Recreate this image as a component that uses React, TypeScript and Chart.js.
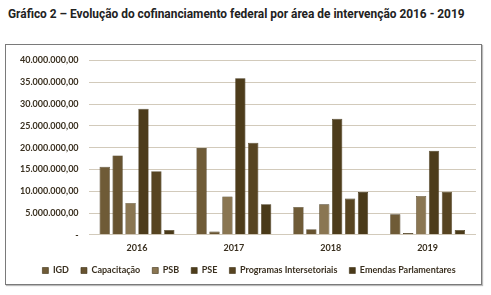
import React, { useEffect, useRef } from "react";
import { Chart, registerables } from "chart.js";

Chart.register(...registerables);

const categories = ["2016", "2017", "2018", "2019"];
const seriesNames = ["IGD", "Capacitação", "PSB", "PSE", "Programas Intersetoriais", "Emendas Parlamentares"];
const igd = [15600000, 19900000, 6400000, 4700000];
const capacitacao = [18200000, 750000, 1300000, 400000];
const psb = [7300000, 8800000, 7000000, 8900000];
const pse = [28900000, 35900000, 26600000, 19300000];
const programas = [14600000, 21100000, 8300000, 9900000];
const emendas = [1100000, 7000000, 9800000, 1100000];
const seriesColors = ["#6f5b37", "#675330", "#8a7652", "#4d3c1b", "#574421", "#4a3a19"];
const yTicks = [0, 5000000, 10000000, 15000000, 20000000, 25000000, 30000000, 35000000, 40000000];

function fmt(v: number): string {
  if (v === 0) return "-";
  const s = Math.round(v).toString();
  const parts: string[] = [];
  for (let i = s.length; i > 0; i -= 3) parts.unshift(s.slice(Math.max(0, i - 3), i));
  return parts.join(".") + ",00";
}

const legendTweak = {
  id: "legendTweak",
  beforeInit(chart: any) {
    const legend = chart.legend;
    if (!legend) return;
    const orig = legend.fit;
    legend.fit = function () {
      orig.call(this);
      this.height -= 3;
    };
  },
  afterLayout(chart: any) {
    const legend = chart.legend;
    if (!legend) return;
    legend.left += 6;
    legend.right += 6;
  },
};

export default function App() {
  const ref = useRef<HTMLCanvasElement | null>(null);
  useEffect(() => {
    if (!ref.current) return;
    const values = [igd, capacitacao, psb, pse, programas, emendas];
    const font = "Lato";
    const chart = new Chart(ref.current, {
      type: "bar",
      data: {
        labels: categories,
        datasets: seriesNames.map((n, i) => ({
          label: n,
          data: values[i],
          backgroundColor: seriesColors[i],
          borderColor: "#3e3014",
          borderWidth: 0.6,
          categoryPercentage: 0.8,
          barPercentage: 0.8,
        })),
      },
      plugins: [legendTweak],
      options: {
        animation: false,
        responsive: false,
        maintainAspectRatio: false,
        layout: { padding: { left: 4, right: 5, top: 3.6, bottom: 2 } },
        plugins: {
          legend: {
            position: "bottom",
            labels: {
              boxWidth: 6,
              boxHeight: 6,
              padding: 12,
              color: "#3a3020",
              font: { family: font, size: 9, weight: "bold" },
            },
          },
          tooltip: { enabled: false },
        },
        scales: {
          x: {
            grid: { display: false },
            border: { display: false },
            ticks: { color: "#3a3020", font: { family: font, size: 9, weight: "bold" }, padding: 0.2 },
          },
          y: {
            min: 0,
            max: 40000000,
            afterBuildTicks: (axis: any) => {
              axis.ticks = yTicks.map((v) => ({ value: v }));
            },
            grid: { color: "#d2cabb", lineWidth: 1, drawTicks: false },
            border: { display: false },
            ticks: {
              color: "#3a3020",
              font: { family: font, size: 9, weight: "bold" },
              padding: 10,
              callback: (v: any) => fmt(Number(v)),
            },
          },
        },
      },
    } as any);
    return () => chart.destroy();
  }, []);
  return (
    <div style={{ position: "absolute", left: 0, top: 0, width: 491, height: 295, background: "#fff" }}>
      <div
        style={{
          position: "absolute",
          left: 8,
          top: 7,
          fontFamily: "Roboto",
          fontWeight: 700,
          fontSize: 11.9,
          color: "#222",
          whiteSpace: "nowrap",
        }}
      >
        Gráfico 2 – Evolução do cofinanciamento federal por área de intervenção 2016 - 2019
      </div>
      <div
        style={{
          position: "absolute",
          left: 5,
          top: 44,
          width: 475,
          height: 239,
          border: "1px solid #7a7a7a",
          boxShadow: "1px 1px 1px #bbb",
        }}
      >
        <canvas ref={ref} width={475} height={239} style={{ display: "block" }} />
      </div>
    </div>
  );
}
